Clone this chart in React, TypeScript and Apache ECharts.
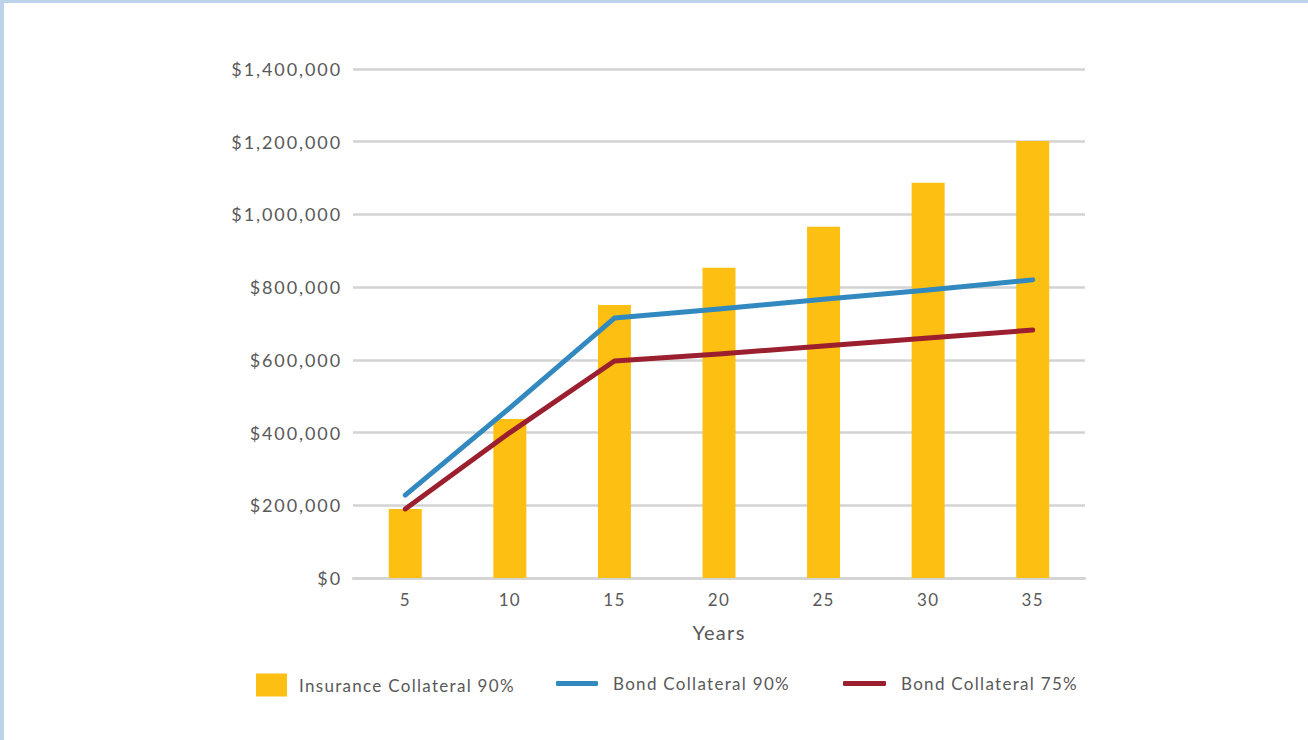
import React, { useEffect, useRef } from "react";
import * as echarts from "echarts";

const years = ["5", "10", "15", "20", "25", "30", "35"];
const insuranceCollateral90 = [190000, 437000, 751000, 853000, 966000, 1087000, 1202000];
const bondCollateral90 = [228000, 468000, 715000, 740000, 767000, 792000, 820000];
const bondCollateral75 = [190000, 400000, 597000, 616000, 638000, 660000, 682000];
const seriesNames = ["Insurance Collateral 90%", "Bond Collateral 90%", "Bond Collateral 75%"];

const FONT = "Lato";
const TEXT_COLOR = "#595959";

export default function App() {
  const ref = useRef<HTMLDivElement>(null);
  useEffect(() => {
    if (!ref.current) return;
    const chart = echarts.init(ref.current, null, { renderer: "svg" });
    const legendText = {
      fontFamily: FONT,
      fontSize: 17,
      color: TEXT_COLOR,
    };
    chart.setOption({
      animation: false,
      backgroundColor: "#ffffff",
      grid: { left: 353, right: 223, top: 69, bottom: 162 },
      legend: [
        {
          data: [{ name: seriesNames[0], icon: "rect" }],
          left: 256,
          top: 673.5,
          padding: 0,
          itemWidth: 31,
          itemHeight: 23,
          textStyle: { ...legendText, padding: [0, 0, 0, 7] },
        },
        {
          data: [{ name: seriesNames[1], icon: "roundRect" }],
          left: 556,
          top: 675,
          padding: 0,
          itemWidth: 42,
          itemHeight: 5,
          textStyle: { ...legendText, padding: [0, 0, 0, 10] },
        },
        {
          data: [{ name: seriesNames[2], icon: "roundRect" }],
          left: 843,
          top: 675,
          padding: 0,
          itemWidth: 43,
          itemHeight: 5,
          textStyle: { ...legendText, padding: [0, 0, 0, 10] },
        },
      ],
      xAxis: {
        type: "category",
        data: years,
        name: "Years",
        nameLocation: "middle",
        nameGap: 44,
        nameTextStyle: { fontFamily: FONT, fontSize: 20, color: TEXT_COLOR },
        axisLine: { show: true, lineStyle: { color: "#d3d3d3", width: 2.5 } },
        axisTick: { show: false },
        axisLabel: {
          interval: 0,
          margin: 13,
          fontFamily: FONT,
          fontSize: 17,
          color: TEXT_COLOR,
        },
      },
      yAxis: {
        type: "value",
        min: 0,
        max: 1400000,
        interval: 200000,
        axisLine: { show: false },
        axisTick: { show: false },
        splitLine: { lineStyle: { color: "#d3d3d3", width: 2.5 } },
        axisLabel: {
          margin: 11,
          fontFamily: FONT,
          fontSize: 18,
          color: TEXT_COLOR,
          formatter: (v: number) => "$" + v.toLocaleString("en-US"),
        },
      },
      series: [
        {
          name: seriesNames[0],
          type: "bar",
          data: insuranceCollateral90,
          barWidth: 33,
          itemStyle: { color: "#fcbf12" },
        },
        {
          name: seriesNames[1],
          type: "line",
          data: bondCollateral90,
          symbol: "none",
          lineStyle: { color: "#3189bf", width: 5, cap: "round", join: "round" },
          itemStyle: { color: "#3189bf" },
        },
        {
          name: seriesNames[2],
          type: "line",
          data: bondCollateral75,
          symbol: "none",
          lineStyle: { color: "#9b1f2e", width: 5, cap: "round", join: "round" },
          itemStyle: { color: "#9b1f2e" },
        },
      ],
      graphic: [
        { type: "rect", shape: { x: 0, y: 0, width: 1308, height: 3 }, style: { fill: "#bdd3ea" }, z: 100 },
        { type: "rect", shape: { x: 0, y: 0, width: 4, height: 740 }, style: { fill: "#bdd3ea" }, z: 100 },
      ],
    });
    return () => chart.dispose();
  }, []);
  return (
    <>
      <style>{`
        .chart-root text { letter-spacing: 1.3px; }
        .chart-root text[text-anchor="end"] { letter-spacing: 1.9px; }
      `}</style>
      <div
        ref={ref}
        className="chart-root"
        style={{ position: "fixed", left: 0, top: 0, width: 1308, height: 740 }}
      />
    </>
  );
}
